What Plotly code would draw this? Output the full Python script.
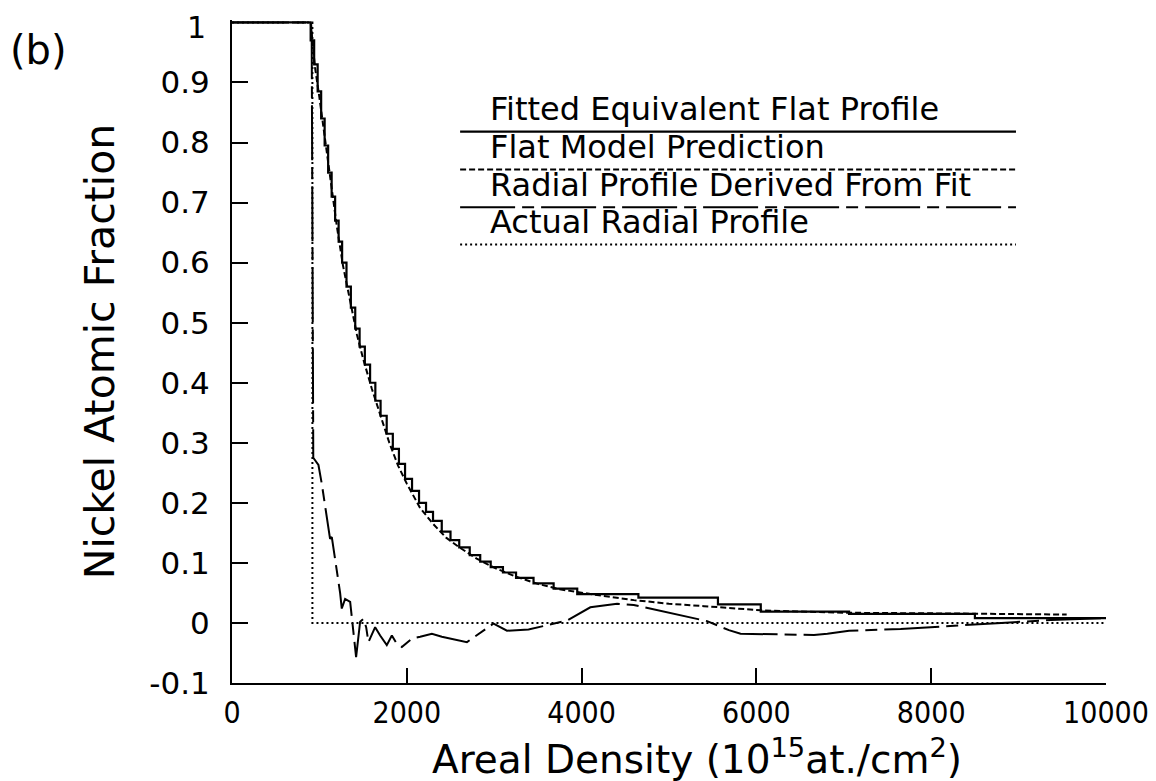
import plotly.graph_objects as go

# ---- data ----
# Fitted equivalent flat profile (step function; left edges + values)
step_x = [0, 900, 940, 980, 1020, 1060, 1100, 1140, 1180, 1220, 1260, 1310, 1360, 1410,
          1460, 1520, 1580, 1640, 1700, 1770, 1840, 1910, 1980, 2060, 2140, 2220, 2300,
          2400, 2500, 2600, 2720, 2840, 2960, 3100, 3250, 3450, 3680, 3950, 4650, 5560,
          6050, 7060, 8500, 10000]
step_y = [1.0, 0.97, 0.93, 0.885, 0.84, 0.795, 0.75, 0.71, 0.67, 0.635, 0.60, 0.56, 0.525,
          0.49, 0.46, 0.43, 0.40, 0.37, 0.345, 0.315, 0.29, 0.265, 0.24, 0.22, 0.20, 0.185,
          0.17, 0.152, 0.138, 0.126, 0.113, 0.102, 0.093, 0.084, 0.075, 0.066, 0.057, 0.048,
          0.042, 0.031, 0.019, 0.015, 0.008, 0.008]

# Flat model prediction (smooth)
model_x = [900, 920, 950, 1000, 1050, 1100, 1150, 1200, 1270, 1350, 1430, 1500, 1600, 1700,
           1800, 1900, 2000, 2150, 2300, 2450, 2600, 2800, 3000, 3250, 3500, 3750, 4000,
           4200, 4600, 5000, 5400, 5750, 6050, 6500, 7000, 8000, 9000, 9550]
model_y = [1.0, 0.965, 0.925, 0.875, 0.82, 0.765, 0.71, 0.66, 0.595, 0.535, 0.48, 0.44, 0.39,
           0.345, 0.30, 0.262, 0.232, 0.192, 0.165, 0.142, 0.126, 0.107, 0.092, 0.077, 0.065,
           0.056, 0.050, 0.046, 0.038, 0.032, 0.028, 0.024, 0.021, 0.019, 0.017, 0.016,
           0.015, 0.014]

# Radial profile derived from fit
radial_x = [0, 905, 912, 930, 989, 1027, 1122, 1142, 1237, 1256, 1294, 1352, 1420, 1466,
            1504, 1535, 1561, 1638, 1695, 1771, 1829, 1886, 1943, 2058, 2153, 2287, 2401,
            2688, 2993, 3146, 3393, 3833, 4100, 4215, 4406, 4597, 5436, 5685, 5819, 6659,
            6812, 7060, 7650, 8800, 9370, 10000]
radial_y = [1.0, 1.0, 0.97, 0.275, 0.263, 0.232, 0.14, 0.143, 0.05, 0.024, 0.04, 0.035,
            -0.057, 0.002, 0.007, -0.007, -0.032, -0.007, -0.021, -0.037, -0.021, -0.035,
            -0.04, -0.026, -0.023, -0.018, -0.023, -0.032, -0.001, -0.013, -0.011, 0.004,
            0.026, 0.028, 0.032, 0.03, 0.003, -0.012, -0.018, -0.02, -0.018, -0.013, -0.01,
            0.0, 0.005, 0.008]

# Actual radial profile
actual_x = [0, 920, 920, 10000]
actual_y = [1.0, 1.0, 0.0, 0.0]

legend_labels = ["Fitted Equivalent Flat Profile", "Flat Model Prediction",
                 "Radial Profile Derived From Fit", "Actual Radial Profile"]

x_ticks = [0, 2000, 4000, 6000, 8000, 10000]
x_ticktext = ["0", "2000", "4000", "6000", "8000", "10000"]
y_ticks = [-0.1, 0, 0.1, 0.2, 0.3, 0.4, 0.5, 0.6, 0.7, 0.8, 0.9]
y_ticktext = ["-0.1", "0", "0.1", "0.2", "0.3", "0.4", "0.5", "0.6", "0.7", "0.8", "0.9"]
y_top_tick = 1
y_top_text = "1"

# ---- styles ----
DASH_SHORT = "6px,3px"
DASH_LONG = "55px,7px,12px,7px"
DASH_DOT = "2px,3px"
styles = [
    dict(color="black", width=2.2, dash="solid"),
    dict(color="black", width=2.0, dash=DASH_SHORT),
    dict(color="black", width=2.0, dash=DASH_LONG),
    dict(color="black", width=2.0, dash=DASH_DOT),
]
COND = "DejaVu Sans Condensed, Liberation Sans Narrow, Liberation Sans"
SANS = "DejaVu Sans"

fig = go.Figure()
fig.add_trace(go.Scatter(x=actual_x, y=actual_y, mode="lines", line=styles[3],
                         name=legend_labels[3]))
fig.add_trace(go.Scatter(x=radial_x, y=radial_y, mode="lines", line=styles[2],
                         name=legend_labels[2]))
fig.add_trace(go.Scatter(x=model_x, y=model_y, mode="lines", line=styles[1],
                         name=legend_labels[1]))
fig.add_trace(go.Scatter(x=step_x, y=step_y, mode="lines", line=styles[0], line_shape="hv",
                         name=legend_labels[0]))

# legend drawn inside plot
leg_y = [0.818, 0.755, 0.692, 0.63]
for lab, yy, st in zip(legend_labels, leg_y, styles):
    fig.add_shape(type="line", xref="x", yref="y", x0=2610, x1=8970, y0=yy, y1=yy,
                  line=st)
    fig.add_annotation(x=2930, y=yy + 0.002, xref="x", yref="y", text=lab, showarrow=False,
                       xanchor="left", yanchor="bottom",
                       font=dict(family=SANS, size=32, color="black"))

fig.add_annotation(x=-0.256, y=0.955, xref="paper", yref="paper", text="(b)",
                   showarrow=False, xanchor="left", yanchor="middle",
                   font=dict(family=SANS, size=40, color="black"))

# top tick label (kept as annotation so it is not dropped at the figure edge)
fig.add_annotation(x=-0.027, y=y_top_tick, xref="paper", yref="y", text=y_top_text,
                   showarrow=False, xanchor="right", yanchor="middle", yshift=-5,
                   font=dict(family=SANS, size=30, color="black"))

# x-axis title
fig.add_annotation(x=0.532, y=-0.111, xref="paper", yref="paper",
                   text="Areal Density (10<sup>15</sup>at./cm<sup>2</sup>)",
                   showarrow=False, xanchor="center", yanchor="middle",
                   font=dict(family=SANS, size=39, color="black"))

# page body has an 8px margin; size the figure so it fits the 1156x781 window
fig.update_layout(
    width=1148, height=773,
    margin=dict(l=224, r=50, t=12, b=98),
    plot_bgcolor="white", paper_bgcolor="white",
    showlegend=False,
    font=dict(family=SANS, color="black"),
)
fig.update_xaxes(
    range=[0, 10000], tickvals=x_ticks, ticktext=x_ticktext, ticks="inside", ticklen=15,
    tickwidth=1.5, tickcolor="black", showline=True, linecolor="black", linewidth=2,
    showgrid=False, zeroline=False, ticklabelstandoff=2, automargin=False,
    tickfont=dict(family=COND, size=30),
)
fig.update_yaxes(
    range=[-0.1, 1.004], tickvals=y_ticks, ticktext=y_ticktext, ticks="inside", ticklen=16,
    tickwidth=1.5, tickcolor="black", showline=True, linecolor="black", linewidth=2,
    showgrid=False, zeroline=False, ticklabelstandoff=14, automargin=False,
    tickfont=dict(family=SANS, size=31),
    title=dict(text="Nickel Atomic Fraction",
               font=dict(family=SANS, size=41), standoff=22),
)

fig.write_html("out.html")
